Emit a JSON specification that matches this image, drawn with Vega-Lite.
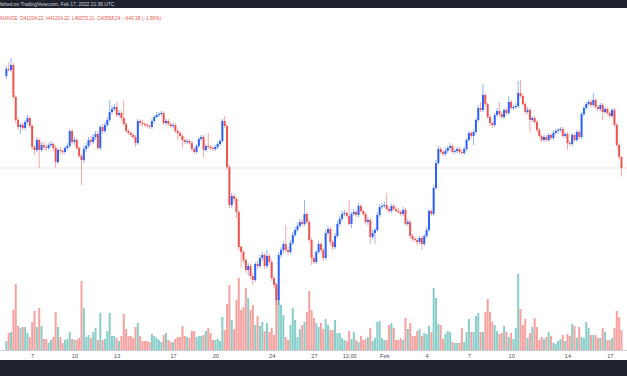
{
"$schema": "https://vega.github.io/schema/vega-lite/v6.json",
"width": 627, "height": 352,
"autosize": {"type": "none"},
"padding": {"top": 8, "bottom": 16, "left": 0, "right": 0},
"background": "#1e222d",
"config": {"view": {"fill": "#ffffff", "stroke": null}},
"title": {
 "text": "Published on TradingView.com, Feb 17, 2022 21:36 UTC",
 "subtitle": "0, BINANCE \u00a0O41204.22 \u00a0H41204.22 \u00a0L40073.21 \u00a0C40558.24 \u00a0\u2212643.38 (\u22121.56%)",
 "anchor": "start", "frame": "group", "dx": -9, "offset": -12.5,
 "font": "Liberation Sans", "fontSize": 4.9, "fontWeight": "normal", "color": "#d1d4dc",
 "subtitleFont": "Liberation Sans", "subtitleFontSize": 4.75, "subtitleColor": "#ef5350", "subtitlePadding": 8.5
},
"data": {"values": [
{"t":"2022-01-05T04:00Z","o":45804,"h":46374,"l":45633,"c":46203,"v":2250},
{"t":"2022-01-05T08:00Z","o":46203,"h":46602,"l":46032,"c":46146,"v":4250},
{"t":"2022-01-05T12:00Z","o":46146,"h":46830,"l":46032,"c":46431,"v":4500},
{"t":"2022-01-05T16:00Z","o":46431,"h":46545,"l":44493,"c":44607,"v":10000},
{"t":"2022-01-05T20:00Z","o":44607,"h":44721,"l":43125,"c":43296,"v":16500},
{"t":"2022-01-06T00:00Z","o":43296,"h":43467,"l":42726,"c":42897,"v":6000},
{"t":"2022-01-06T04:00Z","o":42897,"h":43125,"l":42498,"c":43011,"v":5500},
{"t":"2022-01-06T08:00Z","o":43011,"h":43182,"l":42669,"c":42840,"v":5750},
{"t":"2022-01-06T12:00Z","o":42840,"h":43296,"l":42726,"c":43182,"v":5750},
{"t":"2022-01-06T16:00Z","o":43182,"h":43581,"l":43068,"c":43410,"v":4250},
{"t":"2022-01-06T20:00Z","o":43410,"h":43524,"l":42840,"c":42954,"v":3250},
{"t":"2022-01-07T00:00Z","o":42954,"h":43068,"l":41586,"c":41757,"v":7000},
{"t":"2022-01-07T04:00Z","o":41757,"h":41871,"l":41301,"c":41586,"v":9750},
{"t":"2022-01-07T08:00Z","o":41586,"h":42327,"l":41472,"c":42156,"v":5750},
{"t":"2022-01-07T12:00Z","o":42156,"h":42270,"l":40560,"c":41586,"v":10500},
{"t":"2022-01-07T16:00Z","o":41586,"h":42042,"l":41472,"c":41871,"v":6000},
{"t":"2022-01-07T20:00Z","o":41871,"h":42042,"l":41586,"c":41757,"v":2750},
{"t":"2022-01-08T00:00Z","o":41757,"h":41928,"l":41529,"c":41700,"v":2750},
{"t":"2022-01-08T04:00Z","o":41700,"h":41985,"l":41586,"c":41871,"v":1750},
{"t":"2022-01-08T08:00Z","o":41871,"h":42099,"l":41757,"c":41928,"v":2500},
{"t":"2022-01-08T12:00Z","o":41928,"h":42042,"l":41529,"c":41700,"v":3250},
{"t":"2022-01-08T16:00Z","o":41700,"h":41814,"l":40560,"c":40902,"v":9500},
{"t":"2022-01-08T20:00Z","o":40902,"h":41700,"l":40788,"c":41586,"v":5750},
{"t":"2022-01-09T00:00Z","o":41586,"h":41757,"l":41358,"c":41529,"v":3250},
{"t":"2022-01-09T04:00Z","o":41529,"h":41643,"l":41301,"c":41472,"v":1750},
{"t":"2022-01-09T08:00Z","o":41472,"h":41814,"l":41358,"c":41700,"v":2500},
{"t":"2022-01-09T12:00Z","o":41700,"h":41985,"l":41586,"c":41814,"v":2750},
{"t":"2022-01-09T16:00Z","o":41814,"h":42783,"l":41700,"c":42669,"v":4500},
{"t":"2022-01-09T20:00Z","o":42669,"h":42783,"l":41928,"c":42042,"v":2750},
{"t":"2022-01-10T00:00Z","o":42042,"h":42327,"l":41871,"c":42156,"v":2500},
{"t":"2022-01-10T04:00Z","o":42156,"h":42270,"l":41586,"c":41700,"v":2500},
{"t":"2022-01-10T08:00Z","o":41700,"h":41814,"l":41130,"c":41244,"v":3000},
{"t":"2022-01-10T12:00Z","o":41244,"h":41358,"l":39591,"c":41016,"v":17250},
{"t":"2022-01-10T16:00Z","o":41016,"h":41814,"l":40845,"c":41643,"v":10500},
{"t":"2022-01-10T20:00Z","o":41643,"h":41985,"l":41472,"c":41814,"v":3250},
{"t":"2022-01-11T00:00Z","o":41814,"h":42327,"l":41700,"c":42156,"v":3750},
{"t":"2022-01-11T04:00Z","o":42156,"h":42384,"l":41871,"c":42042,"v":3000},
{"t":"2022-01-11T08:00Z","o":42042,"h":42498,"l":41928,"c":42327,"v":4500},
{"t":"2022-01-11T12:00Z","o":42327,"h":42669,"l":42156,"c":42498,"v":5500},
{"t":"2022-01-11T16:00Z","o":42498,"h":42669,"l":41586,"c":41700,"v":2500},
{"t":"2022-01-11T20:00Z","o":41700,"h":43011,"l":41586,"c":42897,"v":9250},
{"t":"2022-01-12T00:00Z","o":42897,"h":43068,"l":42498,"c":42669,"v":2500},
{"t":"2022-01-12T04:00Z","o":42669,"h":43182,"l":42555,"c":43011,"v":2750},
{"t":"2022-01-12T08:00Z","o":43011,"h":43467,"l":42897,"c":43296,"v":4750},
{"t":"2022-01-12T12:00Z","o":43296,"h":44436,"l":43182,"c":43752,"v":9250},
{"t":"2022-01-12T16:00Z","o":43752,"h":44094,"l":43638,"c":43923,"v":3500},
{"t":"2022-01-12T20:00Z","o":43923,"h":44208,"l":43809,"c":44037,"v":3500},
{"t":"2022-01-13T00:00Z","o":44037,"h":44322,"l":43467,"c":43581,"v":3000},
{"t":"2022-01-13T04:00Z","o":43581,"h":43866,"l":43467,"c":43695,"v":2250},
{"t":"2022-01-13T08:00Z","o":43695,"h":43809,"l":43239,"c":43410,"v":3500},
{"t":"2022-01-13T12:00Z","o":43410,"h":44436,"l":42954,"c":43068,"v":9000},
{"t":"2022-01-13T16:00Z","o":43068,"h":43182,"l":42555,"c":42669,"v":5250},
{"t":"2022-01-13T20:00Z","o":42669,"h":42783,"l":42441,"c":42555,"v":3500},
{"t":"2022-01-14T00:00Z","o":42555,"h":42669,"l":42327,"c":42441,"v":3500},
{"t":"2022-01-14T04:00Z","o":42441,"h":42555,"l":42213,"c":42327,"v":3000},
{"t":"2022-01-14T08:00Z","o":42327,"h":42441,"l":41757,"c":41985,"v":5750},
{"t":"2022-01-14T12:00Z","o":41985,"h":43353,"l":41871,"c":43239,"v":6750},
{"t":"2022-01-14T16:00Z","o":43239,"h":43353,"l":42954,"c":43125,"v":3500},
{"t":"2022-01-14T20:00Z","o":43125,"h":43296,"l":42954,"c":43068,"v":2250},
{"t":"2022-01-15T00:00Z","o":43068,"h":43182,"l":42897,"c":43011,"v":2250},
{"t":"2022-01-15T04:00Z","o":43011,"h":43125,"l":42840,"c":42954,"v":2250},
{"t":"2022-01-15T08:00Z","o":42954,"h":43068,"l":42783,"c":42897,"v":2000},
{"t":"2022-01-15T12:00Z","o":42897,"h":43353,"l":42783,"c":43239,"v":4000},
{"t":"2022-01-15T16:00Z","o":43239,"h":43581,"l":43125,"c":43467,"v":3500},
{"t":"2022-01-15T20:00Z","o":43467,"h":43752,"l":43410,"c":43581,"v":3000},
{"t":"2022-01-16T00:00Z","o":43581,"h":43752,"l":43467,"c":43638,"v":2500},
{"t":"2022-01-16T04:00Z","o":43638,"h":43809,"l":43524,"c":43695,"v":2000},
{"t":"2022-01-16T08:00Z","o":43695,"h":43809,"l":43011,"c":43125,"v":3750},
{"t":"2022-01-16T12:00Z","o":43125,"h":43353,"l":43011,"c":43239,"v":4250},
{"t":"2022-01-16T16:00Z","o":43239,"h":43353,"l":42954,"c":43068,"v":2500},
{"t":"2022-01-16T20:00Z","o":43068,"h":43182,"l":42840,"c":42954,"v":2000},
{"t":"2022-01-17T00:00Z","o":42954,"h":43125,"l":42840,"c":43011,"v":2000},
{"t":"2022-01-17T04:00Z","o":43011,"h":43125,"l":42555,"c":42669,"v":2750},
{"t":"2022-01-17T08:00Z","o":42669,"h":42783,"l":42156,"c":42555,"v":3250},
{"t":"2022-01-17T12:00Z","o":42555,"h":42669,"l":42270,"c":42384,"v":3250},
{"t":"2022-01-17T16:00Z","o":42384,"h":42498,"l":41700,"c":42156,"v":6000},
{"t":"2022-01-17T20:00Z","o":42156,"h":42270,"l":41928,"c":42042,"v":3500},
{"t":"2022-01-18T00:00Z","o":42042,"h":42213,"l":41928,"c":42099,"v":3250},
{"t":"2022-01-18T04:00Z","o":42099,"h":42213,"l":41871,"c":41985,"v":3000},
{"t":"2022-01-18T08:00Z","o":41985,"h":42099,"l":41529,"c":41643,"v":4750},
{"t":"2022-01-18T12:00Z","o":41643,"h":41757,"l":41358,"c":41472,"v":4750},
{"t":"2022-01-18T16:00Z","o":41472,"h":41928,"l":41358,"c":41814,"v":3250},
{"t":"2022-01-18T20:00Z","o":41814,"h":42327,"l":41700,"c":42213,"v":3500},
{"t":"2022-01-19T00:00Z","o":42213,"h":42441,"l":42099,"c":42327,"v":3500},
{"t":"2022-01-19T04:00Z","o":42327,"h":42441,"l":41187,"c":41586,"v":3750},
{"t":"2022-01-19T08:00Z","o":41586,"h":41928,"l":41472,"c":41814,"v":4750},
{"t":"2022-01-19T12:00Z","o":41814,"h":42555,"l":41643,"c":41757,"v":5500},
{"t":"2022-01-19T16:00Z","o":41757,"h":41871,"l":41586,"c":41700,"v":4250},
{"t":"2022-01-19T20:00Z","o":41700,"h":41814,"l":41529,"c":41643,"v":2500},
{"t":"2022-01-20T00:00Z","o":41643,"h":41871,"l":41529,"c":41757,"v":2500},
{"t":"2022-01-20T04:00Z","o":41757,"h":42042,"l":41643,"c":41928,"v":2750},
{"t":"2022-01-20T08:00Z","o":41928,"h":42213,"l":41814,"c":42099,"v":2250},
{"t":"2022-01-20T12:00Z","o":42099,"h":43353,"l":41985,"c":43239,"v":8250},
{"t":"2022-01-20T16:00Z","o":43239,"h":43524,"l":42840,"c":42954,"v":5000},
{"t":"2022-01-20T20:00Z","o":42954,"h":43068,"l":40446,"c":40617,"v":11500},
{"t":"2022-01-21T00:00Z","o":40617,"h":40731,"l":38280,"c":38451,"v":16250},
{"t":"2022-01-21T04:00Z","o":38451,"h":39135,"l":38280,"c":38964,"v":7500},
{"t":"2022-01-21T08:00Z","o":38964,"h":39078,"l":38565,"c":38793,"v":5250},
{"t":"2022-01-21T12:00Z","o":38793,"h":38907,"l":37710,"c":38052,"v":12500},
{"t":"2022-01-21T16:00Z","o":38052,"h":38166,"l":35886,"c":36057,"v":18000},
{"t":"2022-01-21T20:00Z","o":36057,"h":36171,"l":34860,"c":35772,"v":10000},
{"t":"2022-01-22T00:00Z","o":35772,"h":35886,"l":35145,"c":35316,"v":10750},
{"t":"2022-01-22T04:00Z","o":35316,"h":35430,"l":34575,"c":34746,"v":15500},
{"t":"2022-01-22T08:00Z","o":34746,"h":35145,"l":34461,"c":34974,"v":13000},
{"t":"2022-01-22T12:00Z","o":34974,"h":35088,"l":34233,"c":34404,"v":10000},
{"t":"2022-01-22T16:00Z","o":34404,"h":34575,"l":33891,"c":34176,"v":11250},
{"t":"2022-01-22T20:00Z","o":34176,"h":35202,"l":34062,"c":35088,"v":6250},
{"t":"2022-01-23T00:00Z","o":35088,"h":35259,"l":34803,"c":34974,"v":8500},
{"t":"2022-01-23T04:00Z","o":34974,"h":35601,"l":34860,"c":35430,"v":6000},
{"t":"2022-01-23T08:00Z","o":35430,"h":35772,"l":35259,"c":35601,"v":7000},
{"t":"2022-01-23T12:00Z","o":35601,"h":35715,"l":34803,"c":34974,"v":4750},
{"t":"2022-01-23T16:00Z","o":34974,"h":35886,"l":34860,"c":35544,"v":6750},
{"t":"2022-01-23T20:00Z","o":35544,"h":35658,"l":35031,"c":35202,"v":4500},
{"t":"2022-01-24T00:00Z","o":35202,"h":35316,"l":34119,"c":34290,"v":5500},
{"t":"2022-01-24T04:00Z","o":34290,"h":34404,"l":33720,"c":33891,"v":3750},
{"t":"2022-01-24T08:00Z","o":33891,"h":34005,"l":32694,"c":33036,"v":16750},
{"t":"2022-01-24T12:00Z","o":33036,"h":35772,"l":32751,"c":35601,"v":13000},
{"t":"2022-01-24T16:00Z","o":35601,"h":36057,"l":35430,"c":35886,"v":11250},
{"t":"2022-01-24T20:00Z","o":35886,"h":36399,"l":35715,"c":36228,"v":8750},
{"t":"2022-01-25T00:00Z","o":36228,"h":37311,"l":35772,"c":35886,"v":3250},
{"t":"2022-01-25T04:00Z","o":35886,"h":36057,"l":35601,"c":35772,"v":2500},
{"t":"2022-01-25T08:00Z","o":35772,"h":36456,"l":35658,"c":36285,"v":6250},
{"t":"2022-01-25T12:00Z","o":36285,"h":36912,"l":36171,"c":36741,"v":10500},
{"t":"2022-01-25T16:00Z","o":36741,"h":37197,"l":36627,"c":37026,"v":7500},
{"t":"2022-01-25T20:00Z","o":37026,"h":37425,"l":36912,"c":37254,"v":3250},
{"t":"2022-01-26T00:00Z","o":37254,"h":37653,"l":37140,"c":37482,"v":5250},
{"t":"2022-01-26T04:00Z","o":37482,"h":37653,"l":37197,"c":37368,"v":6250},
{"t":"2022-01-26T08:00Z","o":37368,"h":38736,"l":37254,"c":37938,"v":7000},
{"t":"2022-01-26T12:00Z","o":37938,"h":38052,"l":37368,"c":37482,"v":9500},
{"t":"2022-01-26T16:00Z","o":37482,"h":37596,"l":36285,"c":36456,"v":14750},
{"t":"2022-01-26T20:00Z","o":36456,"h":36570,"l":35031,"c":35430,"v":10000},
{"t":"2022-01-27T00:00Z","o":35430,"h":35601,"l":35088,"c":35202,"v":8000},
{"t":"2022-01-27T04:00Z","o":35202,"h":35886,"l":35088,"c":35772,"v":6750},
{"t":"2022-01-27T08:00Z","o":35772,"h":36399,"l":35658,"c":36228,"v":5750},
{"t":"2022-01-27T12:00Z","o":36228,"h":36342,"l":35715,"c":35886,"v":6750},
{"t":"2022-01-27T16:00Z","o":35886,"h":36000,"l":35259,"c":35430,"v":5250},
{"t":"2022-01-27T20:00Z","o":35430,"h":37026,"l":35316,"c":36855,"v":7750},
{"t":"2022-01-28T00:00Z","o":36855,"h":37254,"l":36741,"c":37083,"v":6250},
{"t":"2022-01-28T04:00Z","o":37083,"h":37197,"l":36171,"c":36342,"v":5000},
{"t":"2022-01-28T08:00Z","o":36342,"h":36456,"l":35886,"c":36057,"v":5000},
{"t":"2022-01-28T12:00Z","o":36057,"h":36855,"l":35943,"c":36684,"v":7500},
{"t":"2022-01-28T16:00Z","o":36684,"h":37539,"l":36570,"c":37368,"v":4250},
{"t":"2022-01-28T20:00Z","o":37368,"h":37824,"l":37254,"c":37653,"v":4250},
{"t":"2022-01-29T00:00Z","o":37653,"h":38109,"l":37539,"c":37938,"v":3000},
{"t":"2022-01-29T04:00Z","o":37938,"h":38166,"l":37824,"c":37995,"v":2500},
{"t":"2022-01-29T08:00Z","o":37995,"h":38109,"l":37710,"c":37824,"v":2250},
{"t":"2022-01-29T12:00Z","o":37824,"h":38736,"l":37254,"c":37368,"v":4750},
{"t":"2022-01-29T16:00Z","o":37368,"h":38052,"l":37140,"c":37938,"v":2750},
{"t":"2022-01-29T20:00Z","o":37938,"h":38223,"l":37824,"c":38052,"v":4500},
{"t":"2022-01-30T00:00Z","o":38052,"h":38166,"l":37767,"c":37881,"v":2500},
{"t":"2022-01-30T04:00Z","o":37881,"h":38565,"l":37767,"c":38394,"v":2000},
{"t":"2022-01-30T08:00Z","o":38394,"h":38508,"l":37995,"c":38109,"v":3500},
{"t":"2022-01-30T12:00Z","o":38109,"h":38223,"l":37824,"c":37938,"v":2500},
{"t":"2022-01-30T16:00Z","o":37938,"h":38052,"l":37368,"c":37482,"v":2750},
{"t":"2022-01-30T20:00Z","o":37482,"h":37767,"l":37311,"c":37596,"v":3250},
{"t":"2022-01-31T00:00Z","o":37596,"h":37710,"l":36228,"c":36627,"v":5500},
{"t":"2022-01-31T04:00Z","o":36627,"h":37026,"l":36513,"c":36855,"v":2250},
{"t":"2022-01-31T08:00Z","o":36855,"h":37140,"l":36228,"c":37026,"v":3000},
{"t":"2022-01-31T12:00Z","o":37026,"h":38052,"l":36912,"c":37881,"v":7000},
{"t":"2022-01-31T16:00Z","o":37881,"h":38508,"l":37767,"c":38337,"v":7250},
{"t":"2022-01-31T20:00Z","o":38337,"h":38565,"l":38223,"c":38394,"v":3000},
{"t":"2022-02-01T00:00Z","o":38394,"h":38622,"l":38280,"c":38451,"v":2500},
{"t":"2022-02-01T04:00Z","o":38451,"h":39135,"l":38109,"c":38223,"v":2500},
{"t":"2022-02-01T08:00Z","o":38223,"h":38337,"l":37995,"c":38109,"v":6250},
{"t":"2022-02-01T12:00Z","o":38109,"h":38508,"l":37995,"c":38394,"v":6750},
{"t":"2022-02-01T16:00Z","o":38394,"h":38508,"l":38109,"c":38223,"v":5500},
{"t":"2022-02-01T20:00Z","o":38223,"h":38337,"l":37995,"c":38109,"v":2500},
{"t":"2022-02-02T00:00Z","o":38109,"h":38280,"l":37938,"c":38052,"v":2500},
{"t":"2022-02-02T04:00Z","o":38052,"h":38166,"l":37824,"c":37938,"v":3000},
{"t":"2022-02-02T08:00Z","o":37938,"h":38337,"l":37824,"c":38166,"v":2500},
{"t":"2022-02-02T12:00Z","o":38166,"h":38280,"l":37254,"c":37368,"v":8000},
{"t":"2022-02-02T16:00Z","o":37368,"h":37653,"l":37254,"c":37482,"v":5250},
{"t":"2022-02-02T20:00Z","o":37482,"h":37596,"l":36513,"c":36684,"v":6750},
{"t":"2022-02-03T00:00Z","o":36684,"h":36798,"l":36399,"c":36513,"v":3500},
{"t":"2022-02-03T04:00Z","o":36513,"h":36627,"l":36342,"c":36456,"v":3500},
{"t":"2022-02-03T08:00Z","o":36456,"h":36570,"l":36171,"c":36342,"v":4750},
{"t":"2022-02-03T12:00Z","o":36342,"h":36684,"l":36228,"c":36570,"v":5250},
{"t":"2022-02-03T16:00Z","o":36570,"h":36684,"l":35886,"c":36228,"v":3500},
{"t":"2022-02-03T20:00Z","o":36228,"h":36798,"l":36114,"c":36684,"v":4250},
{"t":"2022-02-04T00:00Z","o":36684,"h":37197,"l":36570,"c":37026,"v":4000},
{"t":"2022-02-04T04:00Z","o":37026,"h":38223,"l":36912,"c":38109,"v":6000},
{"t":"2022-02-04T08:00Z","o":38109,"h":38223,"l":37824,"c":37938,"v":4500},
{"t":"2022-02-04T12:00Z","o":37938,"h":39591,"l":37824,"c":39420,"v":15500},
{"t":"2022-02-04T16:00Z","o":39420,"h":41016,"l":39306,"c":40845,"v":13000},
{"t":"2022-02-04T20:00Z","o":40845,"h":41814,"l":40731,"c":41643,"v":6500},
{"t":"2022-02-05T00:00Z","o":41643,"h":41757,"l":41358,"c":41472,"v":6250},
{"t":"2022-02-05T04:00Z","o":41472,"h":41586,"l":41244,"c":41358,"v":2750},
{"t":"2022-02-05T08:00Z","o":41358,"h":41700,"l":41244,"c":41529,"v":4000},
{"t":"2022-02-05T12:00Z","o":41529,"h":41814,"l":41415,"c":41700,"v":4750},
{"t":"2022-02-05T16:00Z","o":41700,"h":41985,"l":41586,"c":41814,"v":4500},
{"t":"2022-02-05T20:00Z","o":41814,"h":41928,"l":41358,"c":41472,"v":2000},
{"t":"2022-02-06T00:00Z","o":41472,"h":41643,"l":41358,"c":41529,"v":1750},
{"t":"2022-02-06T04:00Z","o":41529,"h":41757,"l":41415,"c":41643,"v":1750},
{"t":"2022-02-06T08:00Z","o":41643,"h":41757,"l":41358,"c":41472,"v":1750},
{"t":"2022-02-06T12:00Z","o":41472,"h":41586,"l":41301,"c":41415,"v":5500},
{"t":"2022-02-06T16:00Z","o":41415,"h":41757,"l":41301,"c":41643,"v":2000},
{"t":"2022-02-06T20:00Z","o":41643,"h":42270,"l":41529,"c":42156,"v":4500},
{"t":"2022-02-07T00:00Z","o":42156,"h":42669,"l":42042,"c":42555,"v":7750},
{"t":"2022-02-07T04:00Z","o":42555,"h":42669,"l":42270,"c":42384,"v":4500},
{"t":"2022-02-07T08:00Z","o":42384,"h":42726,"l":41871,"c":42612,"v":4500},
{"t":"2022-02-07T12:00Z","o":42612,"h":43410,"l":42498,"c":43296,"v":8500},
{"t":"2022-02-07T16:00Z","o":43296,"h":44151,"l":43182,"c":43980,"v":9250},
{"t":"2022-02-07T20:00Z","o":43980,"h":44322,"l":43752,"c":43866,"v":4500},
{"t":"2022-02-08T00:00Z","o":43866,"h":45348,"l":43752,"c":44721,"v":4500},
{"t":"2022-02-08T04:00Z","o":44721,"h":44835,"l":44037,"c":44208,"v":9500},
{"t":"2022-02-08T08:00Z","o":44208,"h":44322,"l":43353,"c":43467,"v":12750},
{"t":"2022-02-08T12:00Z","o":43467,"h":43581,"l":42954,"c":43125,"v":9500},
{"t":"2022-02-08T16:00Z","o":43125,"h":43239,"l":42840,"c":43011,"v":7000},
{"t":"2022-02-08T20:00Z","o":43011,"h":43695,"l":42897,"c":43581,"v":6250},
{"t":"2022-02-09T00:00Z","o":43581,"h":43980,"l":43467,"c":43809,"v":4750},
{"t":"2022-02-09T04:00Z","o":43809,"h":44322,"l":43524,"c":43638,"v":4000},
{"t":"2022-02-09T08:00Z","o":43638,"h":43752,"l":43353,"c":43467,"v":4250},
{"t":"2022-02-09T12:00Z","o":43467,"h":43980,"l":43353,"c":43866,"v":6000},
{"t":"2022-02-09T16:00Z","o":43866,"h":43980,"l":43581,"c":43695,"v":4500},
{"t":"2022-02-09T20:00Z","o":43695,"h":44664,"l":43581,"c":44322,"v":3250},
{"t":"2022-02-10T00:00Z","o":44322,"h":44436,"l":43866,"c":43980,"v":4250},
{"t":"2022-02-10T04:00Z","o":43980,"h":44151,"l":43866,"c":44037,"v":2750},
{"t":"2022-02-10T08:00Z","o":44037,"h":44265,"l":43923,"c":44094,"v":5500},
{"t":"2022-02-10T12:00Z","o":44094,"h":45519,"l":43980,"c":44835,"v":19000},
{"t":"2022-02-10T16:00Z","o":44835,"h":45576,"l":44550,"c":44664,"v":10250},
{"t":"2022-02-10T20:00Z","o":44664,"h":44778,"l":44094,"c":44208,"v":6250},
{"t":"2022-02-11T00:00Z","o":44208,"h":44322,"l":43581,"c":43752,"v":7750},
{"t":"2022-02-11T04:00Z","o":43752,"h":44037,"l":43638,"c":43866,"v":3000},
{"t":"2022-02-11T08:00Z","o":43866,"h":43980,"l":42612,"c":43296,"v":4250},
{"t":"2022-02-11T12:00Z","o":43296,"h":43524,"l":43182,"c":43410,"v":5750},
{"t":"2022-02-11T16:00Z","o":43410,"h":43524,"l":43068,"c":43182,"v":8000},
{"t":"2022-02-11T20:00Z","o":43182,"h":43296,"l":42612,"c":42726,"v":5750},
{"t":"2022-02-12T00:00Z","o":42726,"h":42840,"l":42270,"c":42384,"v":2500},
{"t":"2022-02-12T04:00Z","o":42384,"h":42498,"l":42042,"c":42156,"v":3250},
{"t":"2022-02-12T08:00Z","o":42156,"h":42441,"l":42042,"c":42327,"v":2750},
{"t":"2022-02-12T12:00Z","o":42327,"h":42441,"l":42042,"c":42156,"v":3250},
{"t":"2022-02-12T16:00Z","o":42156,"h":42555,"l":42042,"c":42441,"v":4500},
{"t":"2022-02-12T20:00Z","o":42441,"h":42555,"l":42156,"c":42270,"v":3500},
{"t":"2022-02-13T00:00Z","o":42270,"h":42669,"l":42156,"c":42555,"v":1750},
{"t":"2022-02-13T04:00Z","o":42555,"h":42783,"l":42441,"c":42669,"v":1500},
{"t":"2022-02-13T08:00Z","o":42669,"h":42840,"l":42555,"c":42726,"v":2250},
{"t":"2022-02-13T12:00Z","o":42726,"h":42897,"l":42612,"c":42783,"v":2750},
{"t":"2022-02-13T16:00Z","o":42783,"h":42897,"l":42270,"c":42384,"v":3750},
{"t":"2022-02-13T20:00Z","o":42384,"h":42612,"l":42270,"c":42498,"v":2250},
{"t":"2022-02-14T00:00Z","o":42498,"h":42612,"l":41586,"c":41985,"v":4000},
{"t":"2022-02-14T04:00Z","o":41985,"h":42099,"l":41814,"c":41928,"v":3500},
{"t":"2022-02-14T08:00Z","o":41928,"h":42555,"l":41814,"c":42441,"v":6500},
{"t":"2022-02-14T12:00Z","o":42441,"h":42555,"l":42042,"c":42156,"v":6000},
{"t":"2022-02-14T16:00Z","o":42156,"h":42726,"l":42042,"c":42612,"v":3000},
{"t":"2022-02-14T20:00Z","o":42612,"h":42726,"l":42213,"c":42327,"v":5750},
{"t":"2022-02-15T00:00Z","o":42327,"h":43752,"l":42213,"c":43638,"v":3250},
{"t":"2022-02-15T04:00Z","o":43638,"h":44094,"l":43524,"c":43980,"v":3000},
{"t":"2022-02-15T08:00Z","o":43980,"h":44322,"l":43866,"c":44208,"v":7000},
{"t":"2022-02-15T12:00Z","o":44208,"h":44436,"l":44094,"c":44322,"v":5500},
{"t":"2022-02-15T16:00Z","o":44322,"h":44493,"l":44037,"c":44151,"v":3750},
{"t":"2022-02-15T20:00Z","o":44151,"h":44835,"l":44037,"c":44436,"v":3750},
{"t":"2022-02-16T00:00Z","o":44436,"h":44550,"l":43923,"c":44037,"v":3750},
{"t":"2022-02-16T04:00Z","o":44037,"h":44151,"l":43809,"c":43923,"v":3000},
{"t":"2022-02-16T08:00Z","o":43923,"h":44265,"l":43809,"c":44151,"v":3000},
{"t":"2022-02-16T12:00Z","o":44151,"h":44265,"l":43296,"c":43752,"v":5500},
{"t":"2022-02-16T16:00Z","o":43752,"h":44037,"l":43638,"c":43923,"v":4500},
{"t":"2022-02-16T20:00Z","o":43923,"h":44037,"l":43581,"c":43695,"v":2500},
{"t":"2022-02-17T00:00Z","o":43695,"h":43809,"l":43410,"c":43524,"v":2500},
{"t":"2022-02-17T04:00Z","o":43524,"h":43980,"l":43410,"c":43866,"v":3000},
{"t":"2022-02-17T08:00Z","o":43866,"h":43980,"l":42897,"c":43011,"v":5500},
{"t":"2022-02-17T12:00Z","o":43011,"h":43125,"l":41757,"c":41871,"v":9750},
{"t":"2022-02-17T16:00Z","o":41871,"h":41985,"l":41073,"c":41204.22,"v":8250},
{"t":"2022-02-17T20:00Z","o":41204.22,"h":41204.22,"l":40073.21,"c":40558.24,"v":5000}
]},
"layer": [
 {
  "mark": {"type": "bar", "size": 2, "opacity": 0.55, "clip": true},
  "encoding": {
   "x": {"field": "t", "type": "temporal",
     "scale": {"type": "utc", "domain": ["2022-01-05T01:41:00Z", "2022-02-17T20:53:00Z"], "nice": false},
     "axis": {"values": [{"year": 2022, "month": 1, "date": 7, "utc": true}, {"year": 2022, "month": 1, "date": 10, "utc": true}, {"year": 2022, "month": 1, "date": 13, "utc": true}, {"year": 2022, "month": 1, "date": 17, "utc": true}, {"year": 2022, "month": 1, "date": 20, "utc": true}, {"year": 2022, "month": 1, "date": 24, "utc": true}, {"year": 2022, "month": 1, "date": 27, "utc": true}, {"year": 2022, "month": 1, "date": 29, "hours": 12, "utc": true}, {"year": 2022, "month": 2, "date": 1, "utc": true}, {"year": 2022, "month": 2, "date": 4, "utc": true}, {"year": 2022, "month": 2, "date": 7, "utc": true}, {"year": 2022, "month": 2, "date": 10, "utc": true}, {"year": 2022, "month": 2, "date": 14, "utc": true}, {"year": 2022, "month": 2, "date": 17, "utc": true}],
       "labelExpr": "utchours(datum.value) == 12 ? '12:00' : (utcdate(datum.value) == 1 ? 'Feb' : '' + utcdate(datum.value))",
       "title": null, "grid": false, "ticks": false, "offset": -10, "domainColor": "#c9ccd3", "domainWidth": 1,
       "labelFont": "Liberation Sans", "labelFontSize": 5.6, "labelColor": "#4c4f5a", "labelPadding": 3, "labelOverlap": false, "labelFlush": false}},
   "y": {"field": "v", "type": "quantitative", "scale": {"domain": [-2500, 85500], "nice": false, "zero": false}, "axis": null},
   "y2": {"datum": 0},
   "color": {"condition": {"test": "datum.c >= datum.o", "value": "#26a69a"}, "value": "#ef5350"}
  }
 },
 {
  "layer": [
   {
    "data": {"values": [{"price": 40558.24}]},
    "mark": {"type": "rule", "color": "#ef5350", "opacity": 0.35, "strokeDash": [2, 2], "strokeWidth": 1},
    "encoding": {
     "y": {"field": "price", "type": "quantitative", "scale": {"domain": [29616, 49680], "nice": false, "zero": false}, "axis": null}
    }
   },
   {
    "mark": {"type": "rule", "strokeWidth": 1, "opacity": 0.5, "clip": true},
    "encoding": {
     "x": {"field": "t", "type": "temporal"},
     "y": {"field": "l", "type": "quantitative", "scale": {"domain": [29616, 49680], "nice": false, "zero": false}, "axis": null},
     "y2": {"field": "h"},
     "color": {"condition": {"test": "datum.c >= datum.o", "value": "#2962ff"}, "value": "#ef5350"}
    }
   },
   {
    "mark": {"type": "bar", "size": 2, "clip": true},
    "encoding": {
     "x": {"field": "t", "type": "temporal"},
     "y": {"field": "o", "type": "quantitative", "scale": {"domain": [29616, 49680], "nice": false, "zero": false}, "axis": null},
     "y2": {"field": "c"},
     "color": {"condition": {"test": "datum.c >= datum.o", "value": "#2962ff"}, "value": "#ef5350"}
    }
   }
  ]
 }
],
"resolve": {"scale": {"y": "independent"}}
}
